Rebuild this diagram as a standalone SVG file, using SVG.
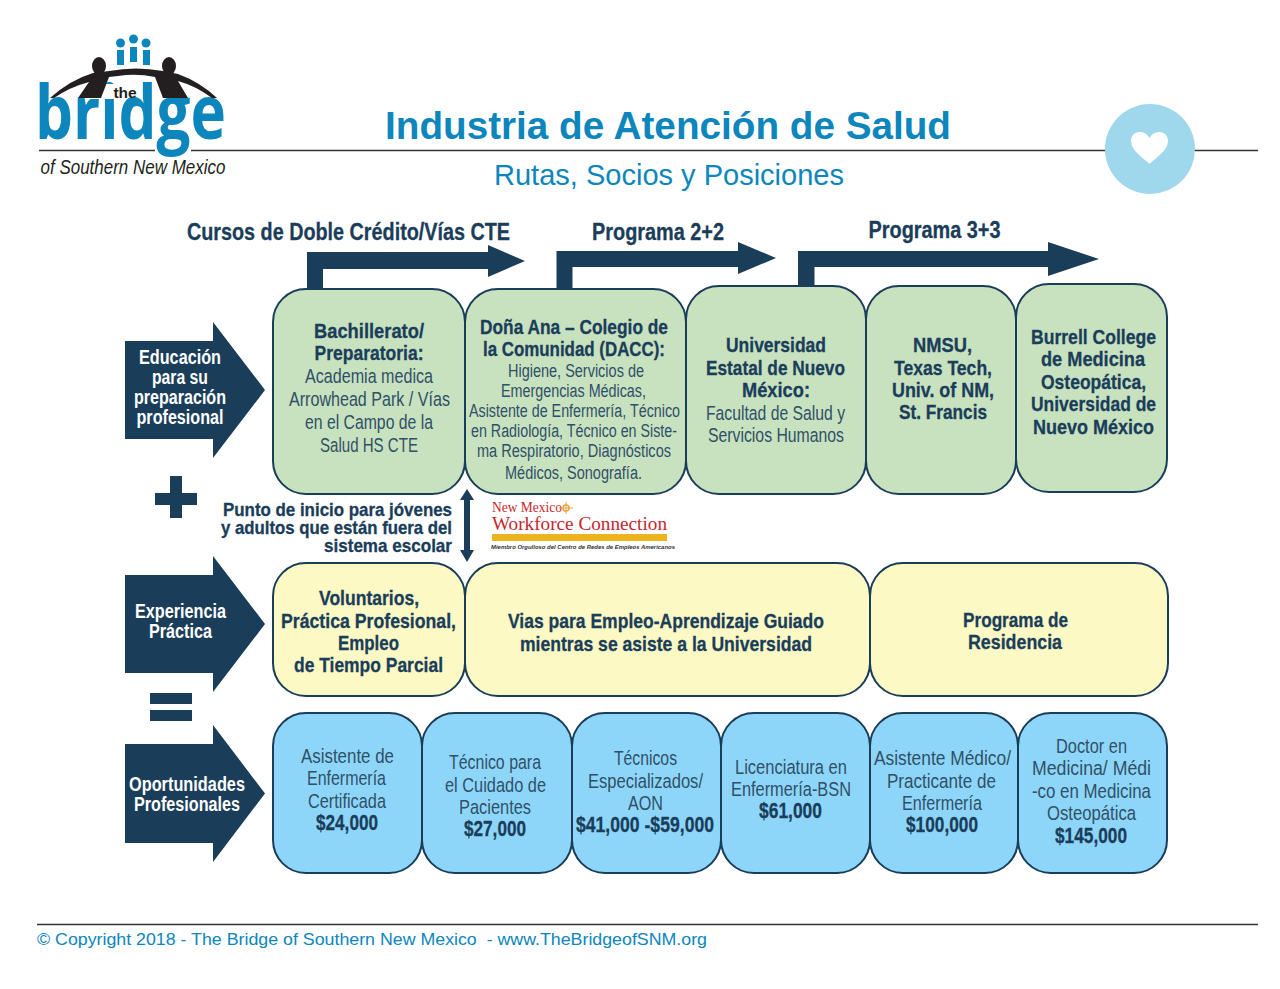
<svg xmlns="http://www.w3.org/2000/svg" width="1280" height="989" viewBox="0 0 1280 989">
<style>
text{font-family:"Liberation Sans",Arial,sans-serif;fill:#1a3d5a;text-anchor:middle}
.n{font-size:20.5px;font-weight:700;stroke:#1a3d5a;stroke-width:.3}
.p{font-size:22px;font-weight:700;stroke:#1a3d5a;stroke-width:.3}
.h{font-size:24px;font-weight:700;stroke:#1a3d5a;stroke-width:.3}
.t{font-size:18.500px;font-weight:700;stroke:#1a3d5a;stroke-width:.3;text-anchor:end}
.r{font-size:20.5px;fill:#2f5068}
.s{font-size:18px;fill:#2f5068}
.l{font-size:20px;font-weight:700;fill:#fff}
.box{stroke:#1a3d5a;stroke-width:2}
.g{fill:#c8e1bf}.y{fill:#fdf9c4}.c{fill:#8ed6f9}
.d{fill:#1a3d5a}
.m{font-family:"Liberation Serif",serif;fill:#c8262c}
</style>
<rect width="1280" height="989" fill="#fff"/>
<g id="rules" stroke="#333" stroke-width="1.3">
<line x1="39" y1="150.500" x2="155" y2="150.500"/><line x1="191" y1="150.500" x2="1258" y2="150.500"/>
<line x1="37" y1="924.500" x2="1258" y2="924.500"/>
</g>
<g id="logo">
<g fill="#0c86bd"><circle cx="120.500" cy="43" r="4.500"/><circle cx="133.500" cy="39" r="4.500"/><circle cx="146" cy="43" r="4.500"/><rect x="117" y="50" width="7" height="15"/><rect x="130" y="47" width="7" height="15"/><rect x="143" y="50" width="7" height="15"/></g>
<text x="130.500" y="139" textLength="191" lengthAdjust="spacingAndGlyphs" style="font-family:'Open Sans','Liberation Sans',sans-serif;font-size:76px;font-weight:700;fill:#0c86bd">bridge</text>
<rect x="90" y="84" width="30" height="15" fill="#fff"/>
<g fill="#231f20"><path d="M50 98Q70 80 93 73L109 71Q136 66 163 71L178 74Q200 82 217 98L212 98Q196 86 178 81L188 98H163L155 77Q136 73 118 76L109 77L101 98H78L89 82Q70 87 54 98Z"/><ellipse cx="99" cy="66" rx="7" ry="9"/><ellipse cx="169" cy="66" rx="7" ry="9"/></g>
<text x="125" y="98" style="font-size:15.500px;font-weight:700;fill:#231f20">the</text>
<text x="133" y="174" textLength="185" lengthAdjust="spacingAndGlyphs" style="font-size:20px;font-style:italic;fill:#231f20">of Southern New Mexico</text>
</g>
<g id="title">
<text x="668" y="139" textLength="566" lengthAdjust="spacingAndGlyphs" style="font-size:38px;font-weight:700;fill:#0c86bd">Industria de Atención de Salud</text>
<text x="669" y="185" textLength="350" lengthAdjust="spacingAndGlyphs" style="font-size:29px;fill:#0c86bd">Rutas, Socios y Posiciones</text>
</g>
<g id="heart-icon"><circle cx="1150" cy="149" r="45" fill="#9fd8ec"/><path d="M1149.500 164C1142 157 1131 150 1131 141C1131 130 1145 129 1149.500 138C1154 129 1168 130 1168 141C1168 150 1157 157 1149.500 164Z" fill="#fff"/></g>
<g id="connectors" class="d">
<path d="M307 289V252H488V245L525 261L488 277V269H323V289Z"/>
<path d="M556.500 289V251H738V242L776 258L738 274V267H572.500V289Z"/>
<path d="M798 286V251H1048V242L1099 259L1048 276V267H814.500V286Z"/>
<path d="M467 489L474 500H470V550H474L467 562L460 550H464V500H460Z"/>
</g>
<g id="path-labels">
<text class="h" x="348.500" y="240" textLength="323" lengthAdjust="spacingAndGlyphs">Cursos de Doble Crédito/Vías CTE</text>
<text class="h" x="658" y="240" textLength="132" lengthAdjust="spacingAndGlyphs">Programa 2+2</text>
<text class="h" x="934.500" y="238" textLength="132" lengthAdjust="spacingAndGlyphs">Programa 3+3</text>
</g>
<g id="arrow-educacion"><path class="d" d="M125 341H213V322L265 390L213 458V439H125Z"/>
<text class="l" x="180" y="364" textLength="82" lengthAdjust="spacingAndGlyphs">Educación</text><text class="l" x="180" y="384" textLength="56" lengthAdjust="spacingAndGlyphs">para su</text><text class="l" x="180" y="404" textLength="92" lengthAdjust="spacingAndGlyphs">preparación</text><text class="l" x="180" y="424" textLength="87" lengthAdjust="spacingAndGlyphs">profesional</text></g>
<g id="arrow-experiencia"><path class="d" d="M125 575H213V556L265 624L213 692V673H125Z"/>
<text class="l" x="180.500" y="618" textLength="91" lengthAdjust="spacingAndGlyphs">Experiencia</text><text class="l" x="180.500" y="638" textLength="63" lengthAdjust="spacingAndGlyphs">Práctica</text></g>
<g id="arrow-oportunidades"><path class="d" d="M125 744H213V725L265 793.500L213 862V843H125Z"/>
<text class="l" x="187" y="791" textLength="116" lengthAdjust="spacingAndGlyphs">Oportunidades</text><text class="l" x="187" y="811" textLength="106" lengthAdjust="spacingAndGlyphs">Profesionales</text></g>
<g id="plus"><path class="d" d="M170 476H182V493H197V505H182V518H170V505H155V493H170Z"/></g>
<g id="equals"><rect class="d" x="150" y="693" width="42" height="11"/><rect class="d" x="150" y="710" width="42" height="11"/></g>
<g id="note">
<text class="t" x="452" y="516" textLength="229" lengthAdjust="spacingAndGlyphs">Punto de inicio para jóvenes</text>
<text class="t" x="452" y="534" textLength="231" lengthAdjust="spacingAndGlyphs">y adultos que están fuera del</text>
<text class="t" x="452" y="552" textLength="128" lengthAdjust="spacingAndGlyphs">sistema escolar</text>
</g>
<g id="workforce-logo">
<text class="m" x="492" y="512" style="text-anchor:start;font-size:14px" textLength="70" lengthAdjust="spacingAndGlyphs">New Mexico</text>
<circle cx="566" cy="508" r="3" fill="none" stroke="#e8a33a" stroke-width="1.500"/><path d="M559 508H573M566 502V514" stroke="#e8a33a" stroke-width="1"/>
<text class="m" x="492" y="530" style="text-anchor:start;font-size:19.500px" textLength="175" lengthAdjust="spacingAndGlyphs">Workforce Connection</text>
<rect x="492" y="534" width="175" height="7" fill="#eeb41f"/>
<text x="491" y="549" style="text-anchor:start;font-size:5.500px;font-style:italic;font-weight:700;fill:#333" textLength="184" lengthAdjust="spacingAndGlyphs">Miembro Orgulloso del Centro de Redes de Empleos Americanos</text>
</g>
<g id="node-bachillerato"><rect class="box g" x="273" y="289" width="192" height="205" rx="33"/>
<text class="n" x="369" y="338" textLength="110" lengthAdjust="spacingAndGlyphs">Bachillerato/</text><text class="n" x="369" y="360" textLength="109" lengthAdjust="spacingAndGlyphs">Preparatoria:</text>
<text class="r" x="369" y="383" textLength="128" lengthAdjust="spacingAndGlyphs">Academia medica</text><text class="r" x="369.500" y="406" textLength="161" lengthAdjust="spacingAndGlyphs">Arrowhead Park / Vías</text><text class="r" x="369" y="429" textLength="128" lengthAdjust="spacingAndGlyphs">en el Campo de la</text><text class="r" x="369" y="452" textLength="98" lengthAdjust="spacingAndGlyphs">Salud HS CTE</text></g>
<g id="node-dacc"><rect class="box g" x="465" y="289" width="221" height="205" rx="33"/>
<text class="n" x="574" y="334" textLength="188" lengthAdjust="spacingAndGlyphs">Doña Ana – Colegio de</text><text class="n" x="574" y="356" textLength="182" lengthAdjust="spacingAndGlyphs">la Comunidad (DACC):</text>
<text class="s" x="576" y="377" textLength="136" lengthAdjust="spacingAndGlyphs">Higiene, Servicios de</text><text class="s" x="573.500" y="397" textLength="145" lengthAdjust="spacingAndGlyphs">Emergencias Médicas,</text><text class="s" x="574.500" y="417" textLength="211" lengthAdjust="spacingAndGlyphs">Asistente de Enfermería, Técnico</text><text class="s" x="574" y="437" textLength="206" lengthAdjust="spacingAndGlyphs">en Radiología, Técnico en Siste-</text><text class="s" x="574" y="457" textLength="194" lengthAdjust="spacingAndGlyphs">ma Respiratorio, Diagnósticos</text><text class="s" x="573.500" y="479" textLength="137" lengthAdjust="spacingAndGlyphs">Médicos, Sonografía.</text></g>
<g id="node-universidad"><rect class="box g" x="686" y="286" width="180" height="208" rx="33"/>
<text class="n" x="776" y="352" textLength="100" lengthAdjust="spacingAndGlyphs">Universidad</text><text class="n" x="775.500" y="375" textLength="139" lengthAdjust="spacingAndGlyphs">Estatal de Nuevo</text><text class="n" x="776" y="397" textLength="68" lengthAdjust="spacingAndGlyphs">México:</text>
<text class="r" x="775.500" y="420" textLength="139" lengthAdjust="spacingAndGlyphs">Facultad de Salud y</text><text class="r" x="776" y="442" textLength="136" lengthAdjust="spacingAndGlyphs">Servicios Humanos</text></g>
<g id="node-nmsu"><rect class="box g" x="866" y="286" width="150" height="208" rx="33"/>
<text class="n" x="942.500" y="352" textLength="59" lengthAdjust="spacingAndGlyphs">NMSU,</text><text class="n" x="943" y="375" textLength="98" lengthAdjust="spacingAndGlyphs">Texas Tech,</text><text class="n" x="943" y="397" textLength="102" lengthAdjust="spacingAndGlyphs">Univ. of NM,</text><text class="n" x="943" y="419" textLength="88" lengthAdjust="spacingAndGlyphs">St. Francis</text></g>
<g id="node-burrell"><rect class="box g" x="1016" y="284" width="151" height="208" rx="33"/>
<text class="n" x="1093.500" y="344" textLength="125" lengthAdjust="spacingAndGlyphs">Burrell College</text><text class="n" x="1093" y="366" textLength="104" lengthAdjust="spacingAndGlyphs">de Medicina</text><text class="n" x="1093.500" y="389" textLength="105" lengthAdjust="spacingAndGlyphs">Osteopática,</text><text class="n" x="1093.500" y="411" textLength="125" lengthAdjust="spacingAndGlyphs">Universidad de</text><text class="n" x="1093.500" y="434" textLength="121" lengthAdjust="spacingAndGlyphs">Nuevo México</text></g>
<g id="node-voluntarios"><rect class="box y" x="273" y="563" width="192" height="133" rx="33"/>
<text class="n" x="369" y="605" textLength="100" lengthAdjust="spacingAndGlyphs">Voluntarios,</text><text class="n" x="368.500" y="628" textLength="175" lengthAdjust="spacingAndGlyphs">Práctica Profesional,</text><text class="n" x="368.500" y="650" textLength="61" lengthAdjust="spacingAndGlyphs">Empleo</text><text class="n" x="368.500" y="672" textLength="149" lengthAdjust="spacingAndGlyphs">de Tiempo Parcial</text></g>
<g id="node-vias"><rect class="box y" x="465" y="563" width="405" height="133" rx="33"/>
<text class="n" x="666" y="628" textLength="316" lengthAdjust="spacingAndGlyphs">Vias para Empleo-Aprendizaje Guiado</text><text class="n" x="666" y="651" textLength="292" lengthAdjust="spacingAndGlyphs">mientras se asiste a la Universidad</text></g>
<g id="node-residencia"><rect class="box y" x="870" y="563" width="298" height="133" rx="33"/>
<text class="n" x="1015.500" y="627" textLength="105" lengthAdjust="spacingAndGlyphs">Programa de</text><text class="n" x="1015" y="649" textLength="94" lengthAdjust="spacingAndGlyphs">Residencia</text></g>
<g id="node-asistente"><rect class="box c" x="273" y="713" width="149" height="160" rx="33"/>
<text class="r" x="347.500" y="763" textLength="93" lengthAdjust="spacingAndGlyphs">Asistente de</text><text class="r" x="346.500" y="785" textLength="79" lengthAdjust="spacingAndGlyphs">Enfermería</text><text class="r" x="347" y="808" textLength="78" lengthAdjust="spacingAndGlyphs">Certificada</text><text class="p" x="347" y="830" textLength="62" lengthAdjust="spacingAndGlyphs">$24,000</text></g>
<g id="node-tecnico"><rect class="box c" x="422" y="713" width="150" height="160" rx="33"/>
<text class="r" x="495" y="769" textLength="92" lengthAdjust="spacingAndGlyphs">Técnico para</text><text class="r" x="495.500" y="792" textLength="101" lengthAdjust="spacingAndGlyphs">el Cuidado de</text><text class="r" x="495" y="814" textLength="72" lengthAdjust="spacingAndGlyphs">Pacientes</text><text class="p" x="495" y="836" textLength="62" lengthAdjust="spacingAndGlyphs">$27,000</text></g>
<g id="node-especializados"><rect class="box c" x="572" y="713" width="149" height="160" rx="33"/>
<text class="r" x="645.500" y="765" textLength="63" lengthAdjust="spacingAndGlyphs">Técnicos</text><text class="r" x="645.500" y="788" textLength="115" lengthAdjust="spacingAndGlyphs">Especializados/</text><text class="r" x="645.500" y="810" textLength="35" lengthAdjust="spacingAndGlyphs">AON</text><text class="p" x="645" y="832" textLength="138" lengthAdjust="spacingAndGlyphs">$41,000 -$59,000</text></g>
<g id="node-bsn"><rect class="box c" x="721" y="713" width="149" height="160" rx="33"/>
<text class="r" x="791" y="774" textLength="112" lengthAdjust="spacingAndGlyphs">Licenciatura en</text><text class="r" x="791" y="796" textLength="120" lengthAdjust="spacingAndGlyphs">Enfermería-BSN</text><text class="p" x="790.500" y="818" textLength="63" lengthAdjust="spacingAndGlyphs">$61,000</text></g>
<g id="node-medico"><rect class="box c" x="870" y="713" width="148" height="160" rx="33"/>
<text class="r" x="942.500" y="765" textLength="137" lengthAdjust="spacingAndGlyphs">Asistente Médico/</text><text class="r" x="941.500" y="788" textLength="109" lengthAdjust="spacingAndGlyphs">Practicante de</text><text class="r" x="942" y="810" textLength="80" lengthAdjust="spacingAndGlyphs">Enfermería</text><text class="p" x="942" y="832" textLength="72" lengthAdjust="spacingAndGlyphs">$100,000</text></g>
<g id="node-doctor"><rect class="box c" x="1018" y="713" width="149" height="160" rx="33"/>
<text class="r" x="1091.500" y="753" textLength="71" lengthAdjust="spacingAndGlyphs">Doctor en</text><text class="r" x="1091.500" y="775" textLength="119" lengthAdjust="spacingAndGlyphs">Medicina/ Médi</text><text class="r" x="1091.500" y="798" textLength="119" lengthAdjust="spacingAndGlyphs">-co en Medicina</text><text class="r" x="1091.500" y="820" textLength="89" lengthAdjust="spacingAndGlyphs">Osteopática</text><text class="p" x="1091" y="843" textLength="72" lengthAdjust="spacingAndGlyphs">$145,000</text></g>
<g id="footer"><text x="37" y="945" style="text-anchor:start;font-size:17px;fill:#0c86bd" textLength="670" lengthAdjust="spacingAndGlyphs" xml:space="preserve">© Copyright 2018 - The Bridge of Southern New Mexico  - www.TheBridgeofSNM.org</text></g>
</svg>
